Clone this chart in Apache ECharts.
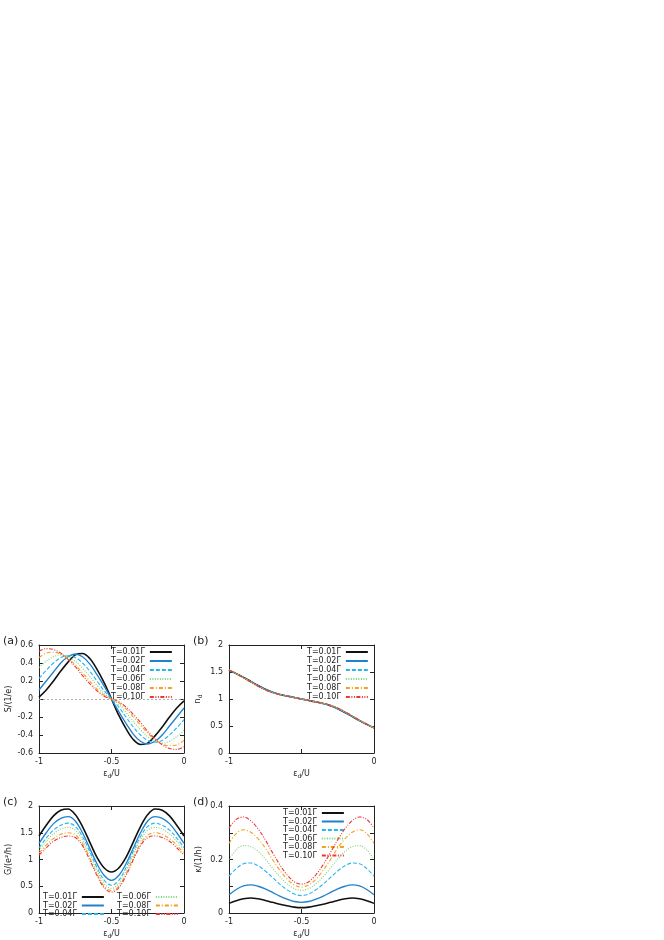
<!DOCTYPE html>
<html>
<head>
<meta charset="utf-8">
<script src="https://cdn.jsdelivr.net/npm/echarts@6/dist/echarts.min.js"></script>
<style>
html, body { margin: 0; padding: 0; background: #fff; }
#main { width: 664px; height: 940px; }
</style>
</head>
<body>
<div id="main"></div>
<script>
// x values (eps_d / U)
var eps = [-1, -0.95, -0.9, -0.85, -0.8, -0.75, -0.7, -0.65, -0.6, -0.55, -0.5,
           -0.45, -0.4, -0.35, -0.3, -0.25, -0.2, -0.15, -0.1, -0.05, 0];
var temps = ['T=0.01Γ', 'T=0.02Γ', 'T=0.04Γ', 'T=0.06Γ', 'T=0.08Γ', 'T=0.10Γ'];

// (a) thermopower S
var sT001 = [0.02, 0.10, 0.20, 0.31, 0.41, 0.49, 0.505, 0.45, 0.33, 0.18, 0, -0.18, -0.33, -0.45, -0.505, -0.49, -0.41, -0.31, -0.20, -0.10, -0.02];
var sT002 = [0.10, 0.20, 0.30, 0.40, 0.47, 0.50, 0.47, 0.39, 0.27, 0.14, 0, -0.14, -0.27, -0.39, -0.47, -0.50, -0.47, -0.40, -0.30, -0.20, -0.10];
var sT004 = [0.23, 0.32, 0.40, 0.46, 0.48, 0.46, 0.40, 0.31, 0.20, 0.09, 0, -0.09, -0.20, -0.31, -0.40, -0.46, -0.48, -0.46, -0.40, -0.32, -0.23];
var sT006 = [0.35, 0.42, 0.47, 0.49, 0.47, 0.42, 0.34, 0.25, 0.15, 0.06, 0, -0.06, -0.15, -0.25, -0.34, -0.42, -0.47, -0.49, -0.47, -0.42, -0.35];
var sT008 = [0.46, 0.51, 0.52, 0.50, 0.45, 0.38, 0.29, 0.20, 0.11, 0.04, 0, -0.04, -0.11, -0.20, -0.29, -0.38, -0.45, -0.50, -0.52, -0.51, -0.46];
var sT010 = [0.53, 0.56, 0.55, 0.51, 0.44, 0.36, 0.26, 0.17, 0.09, 0.03, 0, -0.03, -0.09, -0.17, -0.26, -0.36, -0.44, -0.51, -0.55, -0.56, -0.53];

// (b) occupation n_d
var nT001 = [1.535, 1.470, 1.400, 1.325, 1.250, 1.180, 1.125, 1.085, 1.055, 1.028, 1.0, 0.972, 0.945, 0.915, 0.875, 0.820, 0.750, 0.675, 0.600, 0.530, 0.465];
var nT002 = [1.535, 1.470, 1.398, 1.322, 1.247, 1.177, 1.123, 1.084, 1.054, 1.027, 1.0, 0.973, 0.946, 0.916, 0.877, 0.823, 0.753, 0.678, 0.602, 0.530, 0.465];
var nT004 = [1.535, 1.469, 1.396, 1.319, 1.243, 1.174, 1.121, 1.083, 1.054, 1.027, 1.0, 0.973, 0.946, 0.917, 0.879, 0.826, 0.757, 0.681, 0.604, 0.531, 0.465];
var nT006 = [1.534, 1.468, 1.394, 1.316, 1.240, 1.171, 1.119, 1.082, 1.053, 1.027, 1.0, 0.973, 0.947, 0.918, 0.881, 0.829, 0.760, 0.684, 0.606, 0.532, 0.466];
var nT008 = [1.533, 1.467, 1.392, 1.313, 1.237, 1.168, 1.117, 1.081, 1.053, 1.026, 1.0, 0.974, 0.947, 0.919, 0.883, 0.832, 0.763, 0.687, 0.608, 0.533, 0.467];
var nT010 = [1.532, 1.466, 1.390, 1.310, 1.234, 1.165, 1.115, 1.080, 1.052, 1.026, 1.0, 0.974, 0.948, 0.920, 0.885, 0.835, 0.766, 0.690, 0.610, 0.534, 0.468];

// (c) conductance G
var gT001 = [1.44, 1.64, 1.815, 1.92, 1.945, 1.84, 1.615, 1.325, 1.04, 0.84, 0.765, 0.84, 1.04, 1.325, 1.615, 1.84, 1.945, 1.92, 1.815, 1.64, 1.44];
var gT002 = [1.30, 1.50, 1.67, 1.77, 1.80, 1.72, 1.50, 1.21, 0.92, 0.70, 0.61, 0.70, 0.92, 1.21, 1.50, 1.72, 1.80, 1.77, 1.67, 1.50, 1.30];
var gT004 = [1.22, 1.40, 1.55, 1.64, 1.68, 1.62, 1.43, 1.15, 0.85, 0.61, 0.52, 0.61, 0.85, 1.15, 1.43, 1.62, 1.68, 1.64, 1.55, 1.40, 1.22];
var gT006 = [1.17, 1.34, 1.48, 1.57, 1.60, 1.55, 1.37, 1.09, 0.79, 0.55, 0.46, 0.55, 0.79, 1.09, 1.37, 1.55, 1.60, 1.57, 1.48, 1.34, 1.17];
var gT008 = [1.12, 1.27, 1.39, 1.47, 1.50, 1.46, 1.30, 1.03, 0.73, 0.50, 0.42, 0.50, 0.73, 1.03, 1.30, 1.46, 1.50, 1.47, 1.39, 1.27, 1.12];
var gT010 = [1.08, 1.22, 1.34, 1.41, 1.44, 1.41, 1.26, 0.99, 0.70, 0.47, 0.39, 0.47, 0.70, 0.99, 1.26, 1.41, 1.44, 1.41, 1.34, 1.22, 1.08];

// (d) thermal conductance kappa
var kT001 = [0.036, 0.046, 0.053, 0.056, 0.053, 0.047, 0.040, 0.033, 0.027, 0.022, 0.020, 0.022, 0.027, 0.033, 0.040, 0.047, 0.053, 0.056, 0.053, 0.046, 0.036];
var kT002 = [0.068, 0.088, 0.101, 0.105, 0.100, 0.090, 0.077, 0.063, 0.052, 0.043, 0.040, 0.043, 0.052, 0.063, 0.077, 0.090, 0.100, 0.105, 0.101, 0.088, 0.068];
var kT004 = [0.138, 0.166, 0.184, 0.187, 0.177, 0.157, 0.133, 0.108, 0.087, 0.071, 0.065, 0.071, 0.087, 0.108, 0.133, 0.157, 0.177, 0.187, 0.184, 0.166, 0.138];
var kT006 = [0.200, 0.236, 0.252, 0.248, 0.230, 0.202, 0.168, 0.136, 0.109, 0.091, 0.085, 0.091, 0.109, 0.136, 0.168, 0.202, 0.230, 0.248, 0.252, 0.236, 0.200];
var kT008 = [0.260, 0.297, 0.311, 0.302, 0.278, 0.243, 0.200, 0.160, 0.127, 0.105, 0.097, 0.105, 0.127, 0.160, 0.200, 0.243, 0.278, 0.302, 0.311, 0.297, 0.260];
var kT010 = [0.318, 0.350, 0.359, 0.345, 0.315, 0.274, 0.226, 0.181, 0.143, 0.117, 0.108, 0.117, 0.143, 0.181, 0.226, 0.274, 0.315, 0.345, 0.359, 0.350, 0.318];

var font = 'DejaVu Sans';
var ink = '#222';

var styles = [
    {color: '#111111', width: 1.6, type: 'solid'},
    {color: '#1f80cc', width: 1.3, type: 'solid'},
    {color: '#2ab4ee', width: 1.1, type: [4, 2]},
    {color: '#7dd07d', width: 1.1, type: [1, 1.5]},
    {color: '#f3a01c', width: 1.1, type: [4, 2, 1, 2]},
    {color: '#ec3434', width: 1.1, type: [4, 1.5, 1, 1.5, 1, 1.5]}
];

var panelData = [
    [sT001, sT002, sT004, sT006, sT008, sT010],
    [nT001, nT002, nT004, nT006, nT008, nT010],
    [gT001, gT002, gT004, gT006, gT008, gT010],
    [kT001, kT002, kT004, kT006, kT008, kT010]
];

var grids = [
    {left: 39, top: 645, width: 145, height: 108},
    {left: 229, top: 645, width: 145, height: 108},
    {left: 39, top: 806, width: 145, height: 109},
    {left: 229, top: 806, width: 145, height: 109}
];

var yRange = [[-0.6, 0.6, 0.2], [0, 2, 0.5], [0, 2, 0.5], [0, 0.4, 0.1]];
var yNames = ['S/(1/e)', '{i|n}{s|d}', 'G/(e²/h)', 'κ/(1/h)'];
var epsName = '{i|ε}{s|d}{i|/U}';

var rich = {
    i: {fontSize: 8, fontFamily: font, color: ink, lineHeight: 11, verticalAlign: 'middle'},
    s: {fontSize: 6, fontFamily: font, color: ink, lineHeight: 6, verticalAlign: 'bottom'}
};

function fmt(v) {
    return String(Math.round(v * 100) / 100);
}

var axisLine = {show: true, onZero: false, lineStyle: {color: ink, width: 1}};
var axisTick = {show: true, inside: true, length: 4, lineStyle: {color: ink, width: 1}};

var xAxes = [], yAxes = [], series = [];

for (var p = 0; p < 4; p++) {
    var hideMid = (p === 1);
    xAxes.push({
        gridIndex: p, type: 'value', min: -1, max: 0, interval: 0.5, position: 'bottom',
        name: epsName, nameLocation: 'middle', nameGap: 15,
        nameTextStyle: {fontSize: 8, fontFamily: font, color: ink, rich: rich},
        axisLine: axisLine, axisTick: axisTick, splitLine: {show: false},
        axisLabel: {fontSize: 8, fontFamily: font, color: ink, margin: 5,
            formatter: (function (h) {
                return function (v) { return (h && Math.abs(v + 0.5) < 1e-6) ? '' : fmt(v); };
            })(hideMid)}
    });
    yAxes.push({
        gridIndex: p, type: 'value', min: yRange[p][0], max: yRange[p][1], interval: yRange[p][2],
        position: 'left',
        name: yNames[p], nameLocation: 'middle', nameGap: 26,
        nameTextStyle: {fontSize: 8, fontFamily: font, color: ink, rich: rich},
        axisLine: axisLine, axisTick: axisTick, splitLine: {show: false},
        axisLabel: {fontSize: 8, fontFamily: font, color: ink, margin: 6,
            formatter: (function (q) {
                return function (v) {
                    if (q === 3 && Math.round(v * 10) % 2 !== 0) return '';
                    return fmt(v);
                };
            })(p)}
    });
}
// mirrored ticks on top and right borders
for (var m = 0; m < 4; m++) {
    xAxes.push({
        gridIndex: m, type: 'value', min: -1, max: 0, interval: 0.5, position: 'top',
        axisLine: axisLine, axisTick: axisTick, axisLabel: {show: false}, splitLine: {show: false}
    });
    yAxes.push({
        gridIndex: m, type: 'value', min: yRange[m][0], max: yRange[m][1], interval: yRange[m][2],
        position: 'right',
        axisLine: axisLine, axisTick: axisTick, axisLabel: {show: false}, splitLine: {show: false}
    });
}

for (var pi = 0; pi < 4; pi++) {
    for (var t = 0; t < 6; t++) {
        var arr = panelData[pi][t];
        var s = {
            name: temps[t], type: 'line', xAxisIndex: pi, yAxisIndex: pi,
            data: eps.map(function (x, i) { return [x, arr[i]]; }),
            showSymbol: false, symbol: 'none', smooth: 0.35, silent: true,
            color: styles[t].color,
            lineStyle: {color: styles[t].color, width: styles[t].width, type: styles[t].type},
            z: 3 + t
        };
        if (pi === 0 && t === 0) {
            s.markLine = {
                silent: true, symbol: 'none', label: {show: false},
                lineStyle: {color: '#999', type: [2, 2], width: 0.8},
                data: [{yAxis: 0}]
            };
        }
        series.push(s);
    }
}

function legendAt(left, top, names, gap) {
    return {
        data: names, left: left, top: top, orient: 'vertical', align: 'right',
        padding: 0, itemWidth: 22, itemHeight: 8, itemGap: gap,
        itemStyle: {opacity: 0},
        textStyle: {fontSize: 8, fontFamily: font, color: ink},
        selectedMode: false
    };
}

var panelLabels = [['(a)', 3, 636], ['(b)', 193, 636], ['(c)', 3, 797], ['(d)', 193, 797]];

let option = {
    animation: false,
    backgroundColor: '#fff',
    grid: grids.map(function (g) {
        return {left: g.left, top: g.top, width: g.width, height: g.height, containLabel: false};
    }),
    xAxis: xAxes,
    yAxis: yAxes,
    legend: [
        legendAt(111, 648, temps, 1),
        legendAt(307, 648, temps, 1),
        legendAt(43, 893, temps.slice(0, 3), 0.5),
        legendAt(117, 893, temps.slice(3), 0.5),
        legendAt(283, 809, temps, 0.5)
    ],
    graphic: panelLabels.map(function (l) {
        return {type: 'text', left: l[1], top: l[2],
            style: {text: l[0], fontSize: 11, fontFamily: font, fill: ink}};
    }),
    series: series
};

var myChart = echarts.init(document.getElementById('main'));
myChart.setOption(option);
</script>
</body>
</html>
